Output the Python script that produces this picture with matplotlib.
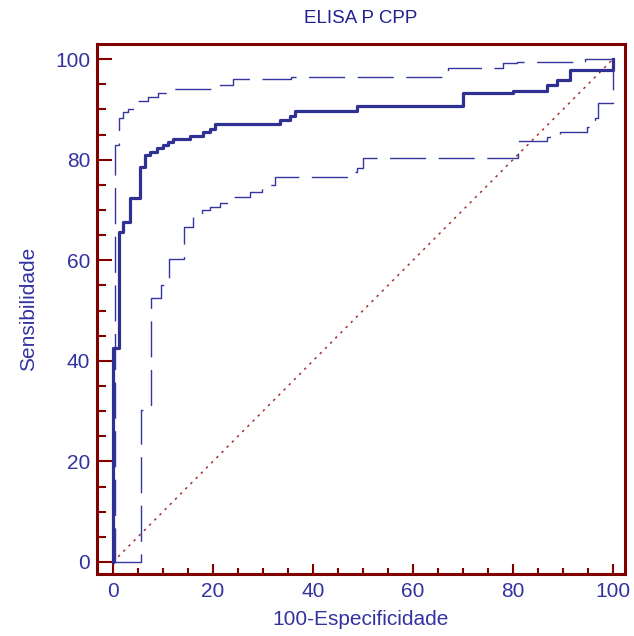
import numpy as np
import matplotlib
matplotlib.use('Agg')
from matplotlib import pyplot as plt
from matplotlib.ticker import MultipleLocator

plt.rcParams['font.family'] = ['Liberation Sans', 'DejaVu Sans']

# ROC points (100-specificity, sensitivity)
roc_x = [0, 0, 1.2, 2.0, 3.4, 5.4, 6.4, 7.4, 8.8, 10, 11, 12, 15.4, 18, 19.4,
         20.4, 33.4, 35.4, 36.4, 48.8, 70, 80, 86.8, 88.8, 91.4, 100]
roc_y = [0, 42.5, 65.6, 67.6, 72.4, 78.5, 80.9, 81.5, 82.3, 82.9, 83.5, 84.1,
         84.7, 85.5, 86.1, 87.1, 87.9, 88.7, 89.7, 90.7, 93.2, 93.6, 94.8,
         95.8, 97.8, 100]

upper_x = [0, 0.3, 1.2, 2, 3, 5, 7, 9, 10.8, 11, 21.4, 24, 35.6, 67, 78,
           80.8, 94.4, 100]
upper_y = [0, 83, 88.3, 89.5, 90, 91.6, 92.4, 93.2, 93.4, 94, 94.8, 96,
           96.4, 98.2, 99.2, 99.4, 100, 100]

lower_x = [0, 5.6, 7.6, 9.6, 11.2, 14.2, 16, 17.8, 19.4, 21.4, 23.4, 27.4,
           29.8, 30.8, 32.4, 46.8, 48.8, 50, 81, 86.8, 89.4, 94.8, 96.4, 97,
           100]
lower_y = [0, 30.2, 52.5, 55, 60.2, 66.7, 69.2, 70, 70.6, 71.4, 72.6, 73.6,
           74.4, 75, 76.5, 77.5, 78.3, 80.3, 83.7, 84.5, 85.5, 86.5, 88.3,
           91.3, 100]

ref_line = [0, 100]

frame_color = '#800000'
text_color = '#3333A0'
line_color = '#3535A0'

fig = plt.figure(figsize=(6.34, 6.36), dpi=100)
ax = fig.add_axes([97 / 634, 1 - 574 / 636, 528 / 634, 530 / 636])

ax.plot(ref_line, ref_line, color='#A03030', lw=1.1, linestyle=(0, (1.6, 3.2)))
ax.plot(upper_x, upper_y, drawstyle='steps-post', color=line_color, lw=1.0,
        linestyle=(0, (26, 9)))
ax.plot(lower_x, lower_y, drawstyle='steps-post', color=line_color, lw=1.0,
        linestyle=(0, (26, 9)))
ax.plot(roc_x, roc_y, drawstyle='steps-post', color='#2E3192', lw=2.3)

ax.set_xlim(-3.2, 102.4)
ax.set_ylim(-2.4, 103)

ax.xaxis.set_major_locator(MultipleLocator(20))
ax.xaxis.set_minor_locator(MultipleLocator(5))
ax.yaxis.set_major_locator(MultipleLocator(20))
ax.yaxis.set_minor_locator(MultipleLocator(5))

for sp in ax.spines.values():
    sp.set_color(frame_color)
    sp.set_linewidth(2.2)

ax.tick_params(axis='both', which='both', direction='in', color=frame_color,
               width=1.5, labelcolor=text_color, labelsize=15)
ax.tick_params(axis='y', which='major', length=10.5, pad=5)
ax.tick_params(axis='y', which='minor', length=6.5)
ax.tick_params(axis='x', which='major', length=7.5, pad=6)
ax.tick_params(axis='x', which='minor', length=4.5)
ax.tick_params(top=False, right=False, which='both')

ax.set_title('ELISA P CPP', color='#202090', fontsize=13.5, pad=15)
ax.set_xlabel('100-Especificidade', color=text_color, fontsize=15, labelpad=6)
ax.set_ylabel('Sensibilidade', color=text_color, fontsize=15, labelpad=12)

fig.savefig('out.png', dpi=100)
